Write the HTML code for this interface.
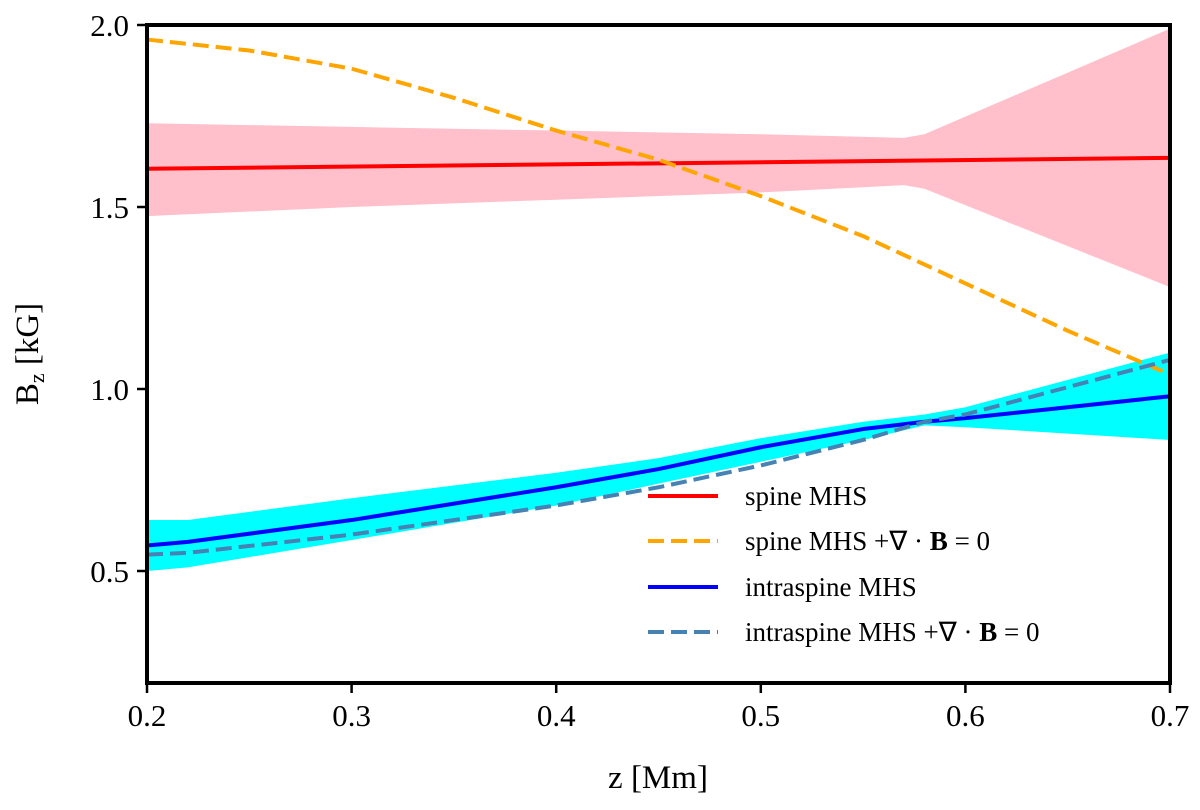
<!DOCTYPE html>
<html><head><meta charset="utf-8"><style>
body{margin:0;background:#fff}
svg text{font-family:"Liberation Serif",serif;fill:#000}
</style></head><body>
<svg width="1200" height="805" viewBox="0 0 1200 805">
<g id="plot"></g>
<rect x="147" y="25" width="1023" height="658" fill="none" stroke="#000" stroke-width="4"/>
<g id="ticks"></g>
<text x="658" y="788" font-size="33" text-anchor="middle">z [Mm]</text>
<text transform="translate(38,354) rotate(-90)" font-size="33" text-anchor="middle">B<tspan font-size="22" dy="6">z</tspan><tspan dy="-6"> [kG]</tspan></text>
<g id="legend">
<line x1="648" y1="496" x2="718" y2="496" stroke="#ff0000" stroke-width="4"/>
<text x="745" y="505" font-size="27">spine MHS</text>
<line x1="648" y1="541" x2="718" y2="541" stroke="#ffa500" stroke-width="4" stroke-dasharray="16,7"/>
<text x="745" y="550" font-size="27">spine MHS +∇ · <tspan font-weight="bold">B</tspan> = 0</text>
<line x1="648" y1="587" x2="718" y2="587" stroke="#0000ff" stroke-width="4"/>
<text x="745" y="596" font-size="27">intraspine MHS</text>
<line x1="648" y1="632" x2="718" y2="632" stroke="#4682b4" stroke-width="4" stroke-dasharray="16,7"/>
<text x="745" y="641" font-size="27">intraspine MHS +∇ · <tspan font-weight="bold">B</tspan> = 0</text>
</g>
</svg>
<script>
const zBand1=[0.2,0.3,0.4,0.5,0.57,0.58,0.7];
const pinkUpper=[1.73,1.72,1.71,1.70,1.69,1.70,1.99];
const pinkLower=[1.475,1.50,1.52,1.54,1.56,1.55,1.28];
const zRed=[0.2,0.7];
const redVals=[1.605,1.635];
const zOrange=[0.2,0.25,0.3,0.35,0.4,0.45,0.5,0.55,0.6,0.65,0.7];
const orangeVals=[1.96,1.93,1.88,1.80,1.71,1.63,1.53,1.42,1.29,1.16,1.04];
const zCurve=[0.2,0.22,0.3,0.4,0.45,0.5,0.55,0.58,0.6,0.7];
const blueVals=[0.57,0.58,0.64,0.73,0.78,0.84,0.89,0.91,0.92,0.98];
const cyanUpper=[0.64,0.64,0.70,0.77,0.81,0.865,0.91,0.93,0.95,1.10];
const cyanLower=[0.50,0.51,0.585,0.68,0.74,0.80,0.86,0.90,0.895,0.86];
const steelVals=[0.545,0.55,0.60,0.68,0.73,0.79,0.86,0.91,0.93,1.08];
const xTicks=[0.2,0.3,0.4,0.5,0.6,0.7];
const yTicks=[0.5,1.0,1.5,2.0];
const xLabels=["0.2","0.3","0.4","0.5","0.6","0.7"];
const yLabels=["0.5","1.0","1.5","2.0"];
const X=v=>147+(v-0.2)/0.5*1023;
const Y=v=>25+(2.0-v)/0.5*182;
const NS="http://www.w3.org/2000/svg";
const plot=document.getElementById('plot'),ticks=document.getElementById('ticks');
function mk(tag,attrs,parent){const e=document.createElementNS(NS,tag);for(const k in attrs)e.setAttribute(k,attrs[k]);parent.appendChild(e);return e;}
function pts(xs,ys){return xs.map((x,i)=>X(x)+','+Y(ys[i])).join(' ');}
function band(xs,up,lo){return pts(xs,up)+' '+pts(xs.slice().reverse(),lo.slice().reverse());}
let e;
e=mk('polygon',{points:band(zBand1,pinkUpper,pinkLower),fill:'#ffc0cb'},plot);


e=mk('polygon',{points:band(zCurve,cyanUpper,cyanLower),fill:'#00ffff'},plot);


e=mk('polyline',{points:pts(zRed,redVals),fill:'none',stroke:'#ff0000','stroke-width':4},plot);


e=mk('polyline',{points:pts(zOrange,orangeVals),fill:'none',stroke:'#ffa500','stroke-width':4,'stroke-dasharray':'16,7','stroke-linejoin':'round'},plot);


e=mk('polyline',{points:pts(zCurve,blueVals),fill:'none',stroke:'#0000ff','stroke-width':4,'stroke-linejoin':'round'},plot);


e=mk('polyline',{points:pts(zCurve,steelVals),fill:'none',stroke:'#4682b4','stroke-width':4,'stroke-dasharray':'16,7','stroke-linejoin':'round'},plot);


xTicks.forEach((t,i)=>{mk('line',{x1:X(t),x2:X(t),y1:683,y2:693,stroke:'#000','stroke-width':2.5},ticks);
e=mk('text',{x:X(t),y:726,'font-size':31,'text-anchor':'middle'},ticks);e.textContent=xLabels[i];

});
yTicks.forEach((t,i)=>{mk('line',{x1:137,x2:147,y1:Y(t),y2:Y(t),stroke:'#000','stroke-width':2.5},ticks);
e=mk('text',{x:129,y:Y(t)+11,'font-size':31,'text-anchor':'end'},ticks);e.textContent=yLabels[i];

});
</script>
</body></html>
